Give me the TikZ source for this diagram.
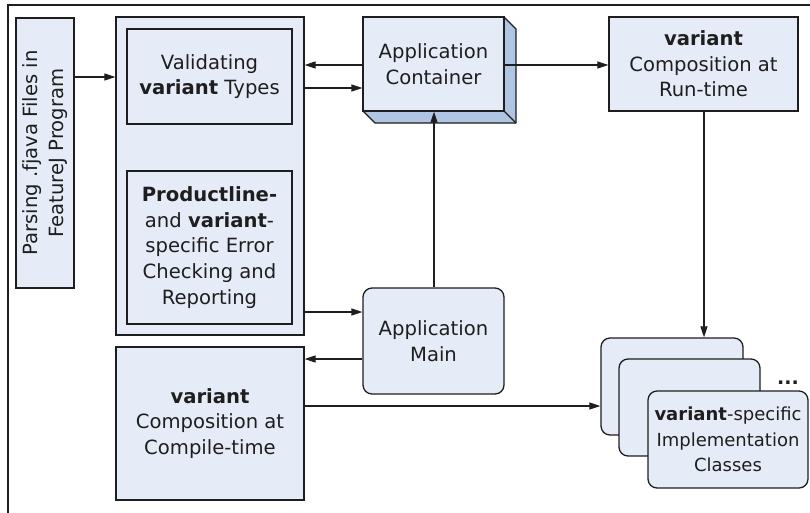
\documentclass[tikz,border=0pt]{standalone}
\usepackage{fontspec}
\setmainfont{DejaVu Sans}
\usetikzlibrary{arrows.meta}
\definecolor{boxfill}{RGB}{230,236,247}
\definecolor{boxside}{RGB}{176,196,228}
\definecolor{ink}{RGB}{30,30,30}
\tikzset{
  lbl/.style={font=\fontsize{19.6}{25.6}\selectfont, text=ink, align=center, inner sep=0pt},
  sqbox/.style={draw=ink, line width=1.3pt, fill=boxfill, lbl},
  rbox/.style={sqbox, rounded corners=9pt},
  link/.style={draw=ink, line width=1.2pt, -{Triangle[length=11pt,width=7pt]}},
}
\begin{document}
\begin{tikzpicture}[x=1pt,y=-1pt]
\useasboundingbox (0,0) rectangle (810,512);
\fill[white] (0,0) rectangle (810,512);
% outer frame (runs past the right and bottom edges)
\draw[ink, line width=1.3pt] (8,515) -- (8,5) -- (815,5);

% parsing stage
\node[sqbox, minimum width=58pt, minimum height=270pt] (parse) at (45,153) {};
\node[lbl, rotate=90] (parsetxt) at (45,153) {Parsing .fjava Files in\\FeatureJ Program};

% checking container with its two parts
\node[sqbox, minimum width=188pt, minimum height=318pt] (big) at (210,176) {};
\node[sqbox, minimum width=165pt, minimum height=95pt] (valid) at (209.5,76.5)
  {Validating\\\textbf{variant} Types};
\node[sqbox, minimum width=165pt, minimum height=153pt] (prod) at (209.5,247.5)
  {\textbf{Productline-}\\and \textbf{variant}-\\specific Error\\Checking and\\Reporting};

% application container drawn as a block with depth
\fill[boxside, draw=ink, line width=1.3pt, line join=round]
  (504,17) -- (516,29) -- (516,123) -- (375,123) -- (363,111) -- (504,111) -- cycle;
\draw[ink, line width=1.3pt] (504,111) -- (516,123);
\node[sqbox, minimum width=141pt, minimum height=94pt] (ac) at (433.5,64)
  {Application\\Container};

% run-time composition
\node[sqbox, minimum width=189pt, minimum height=94pt] (rt) at (703.5,64)
  {\textbf{variant}\\Composition at\\Run-time};

% application main
\node[rbox, minimum width=141pt, minimum height=106pt] (main) at (433.5,341)
  {Application\\Main};

% compile-time composition
\node[sqbox, minimum width=188pt, minimum height=153pt] (comp) at (210,423.5)
  {\textbf{variant}\\Composition at\\Compile-time};

% stack of implementation classes
\node[rbox, minimum width=142pt, minimum height=97pt] (b1) at (672,386.5) {};
\node[rbox, minimum width=141pt, minimum height=97pt] (b2) at (689.5,407.5) {};
\node[rbox, minimum width=160pt, minimum height=97pt, font=\fontsize{18}{25.6}\selectfont] (b3) at (728,439.5)
  {\textbf{variant}-specific\\Implementation\\Classes};
\node[lbl, font=\fontsize{19}{25}\selectfont\bfseries] (dots) at (788,383) {...};

% connectors
\draw[link] (parse.east |- 0,77) -- (big.west |- 0,77);
\draw[link] (ac.west |- 0,65) -- (big.east |- 0,65);
\draw[link] (big.east |- 0,88) -- (ac.west |- 0,88);
\draw[link] (ac.east |- 0,65) -- (rt.west |- 0,65);
\draw[link] (rt.south -| 704,0) -- (b1.north -| 704,0);
\draw[link] (main.north -| 434,0) -- (ac.south -| 434,0);
\draw[link] (big.east |- 0,312) -- (main.west |- 0,312);
\draw[link] (main.west |- 0,359) -- (comp.east |- 0,359);
\draw[link] (comp.east |- 0,406) -- (b1.west |- 0,406);
\end{tikzpicture}
\end{document}
